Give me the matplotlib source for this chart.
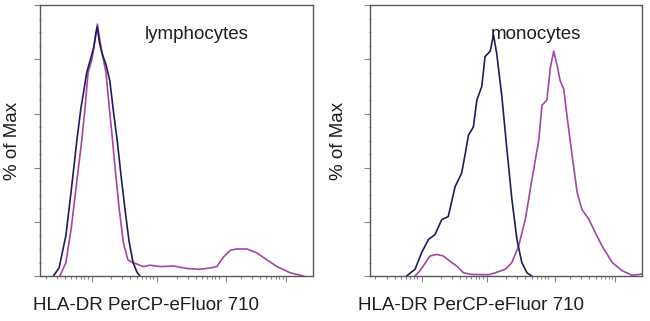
import numpy as np
import matplotlib
matplotlib.use("Agg")
import matplotlib.pyplot as plt

plt.rcParams['font.family'] = ['Liberation Sans', 'DejaVu Sans']

# x is on a 0-1000 channel scale, y is % of Max
lymph_ctrl_x = [49, 70, 95, 115, 135, 150, 160, 171, 185, 196, 204, 210, 218, 228,
                242, 256, 270, 283, 297, 311, 326, 341, 355, 366]
lymph_ctrl_y = [0, 3, 15, 32, 50, 62, 68, 75, 80, 84, 89, 92, 86, 82,
                78, 72, 60, 50, 37, 25, 13, 5, 1.5, 0]

lymph_stain_x = [73, 95, 115, 135, 153, 165, 176, 190, 200, 210, 218, 228, 242, 254,
                 266, 278, 290, 306, 322, 340, 379, 403, 440, 489, 538, 587, 623, 648,
                 672, 697, 721, 758, 795, 831, 868, 917, 966]
lymph_stain_y = [0, 5, 18, 35, 50, 62, 75, 80, 86, 93, 88, 82, 75, 62,
                 50, 37, 25, 12, 6, 5, 3.5, 4, 3.5, 3.7, 2.8, 2.5, 3, 3.5,
                 7, 9.5, 10, 10, 8.5, 6, 3.5, 1.2, 0]

mono_ctrl_x = [135, 153, 166, 190, 215, 239, 264, 288, 313, 337, 350, 362, 380, 393,
               411, 423, 442, 454, 466, 485, 503, 521, 540, 558, 577, 595]
mono_ctrl_y = [0, 1.5, 2.5, 8.6, 13.5, 15.3, 20.8, 22, 33, 38, 45, 52, 55, 65,
               70, 81, 83, 89, 82, 66, 47, 28.8, 13.5, 5, 1.2, 0]

mono_stain_x = [166, 184, 196, 221, 245, 270, 294, 319, 344, 374, 436, 460, 497, 521,
                546, 571, 595, 620, 632, 650, 663, 675, 687, 699, 712, 724, 742, 761,
                779, 804, 828, 853, 890, 926, 963, 988, 1000]
mono_stain_y = [0, 2, 3.7, 7.4, 8, 7.4, 5.5, 3.7, 1.2, 0.6, 0.5, 1.2, 2.5, 4.9,
                11, 21, 35.6, 50, 63, 65, 77, 83, 78, 72, 69, 59, 45, 31,
                24.5, 21, 16, 11, 5, 2, 0.3, 0.6, 0.8]

panel_titles = ["lymphocytes", "monocytes"]
x_label = "HLA-DR PerCP-eFluor 710"
y_label = "% of Max"

ctrl_color = "#1e1d5e"
stain_color = "#a446a8"
frame_color = "#5a5a5a"
tick_color = "#888888"
text_color = "#1e1e1e"

fig = plt.figure(figsize=(6.5, 3.21), dpi=100)
ax1 = fig.add_axes([0.0615, 0.140, 0.420, 0.844])
ax2 = fig.add_axes([0.569, 0.140, 0.419, 0.844])

major = [190, 430, 680, 900]
minor = []
for start in [-50, 190, 430, 665]:
    for k in range(2, 10):
        minor.append(start + np.log10(k) * 235)
minor = [m for m in minor if 0 < m < 1000]

panels = [
    (ax1, lymph_ctrl_x, lymph_ctrl_y, lymph_stain_x, lymph_stain_y, panel_titles[0],
     0.573, -0.026, -0.099),
    (ax2, mono_ctrl_x, mono_ctrl_y, mono_stain_x, mono_stain_y, panel_titles[1],
     0.61, -0.044, -0.114),
]
for ax, cx, cy, sx, sy, title, tx, lx, ly in panels:
    ax.plot(sx, sy, color=stain_color, lw=1.2)
    ax.plot(cx, cy, color=ctrl_color, lw=1.2)
    ax.set_xlim(0, 1000)
    ax.set_ylim(0, 100)
    ax.set_yticks([0, 20, 40, 60, 80, 100])
    ax.set_yticks(range(5, 100, 5), minor=True)
    ax.set_xticks(major)
    ax.set_xticks(minor, minor=True)
    ax.set_yticklabels([])
    ax.set_xticklabels([])
    ax.tick_params(axis='both', which='major', direction='out', length=4.5,
                   width=0.8, color=tick_color)
    ax.tick_params(axis='x', which='minor', direction='out', length=2.5,
                   width=0.8, color=tick_color)
    ax.tick_params(axis='y', which='minor', direction='inout', length=2,
                   width=0.8, color=tick_color)
    for sp in ax.spines.values():
        sp.set_color(frame_color)
        sp.set_linewidth(1.0)
    ax.text(tx, 0.875, title, transform=ax.transAxes, ha='center',
            fontsize=13.5, color=text_color)
    ax.set_xlabel(x_label, fontsize=13.5, color=text_color, ha='left', va='center')
    ax.xaxis.set_label_coords(lx, -0.107)
    ax.set_ylabel(y_label, fontsize=13.5, color=text_color, va='center')
    ax.yaxis.set_label_coords(ly, 0.5)

fig.savefig("out.png", dpi=100)
